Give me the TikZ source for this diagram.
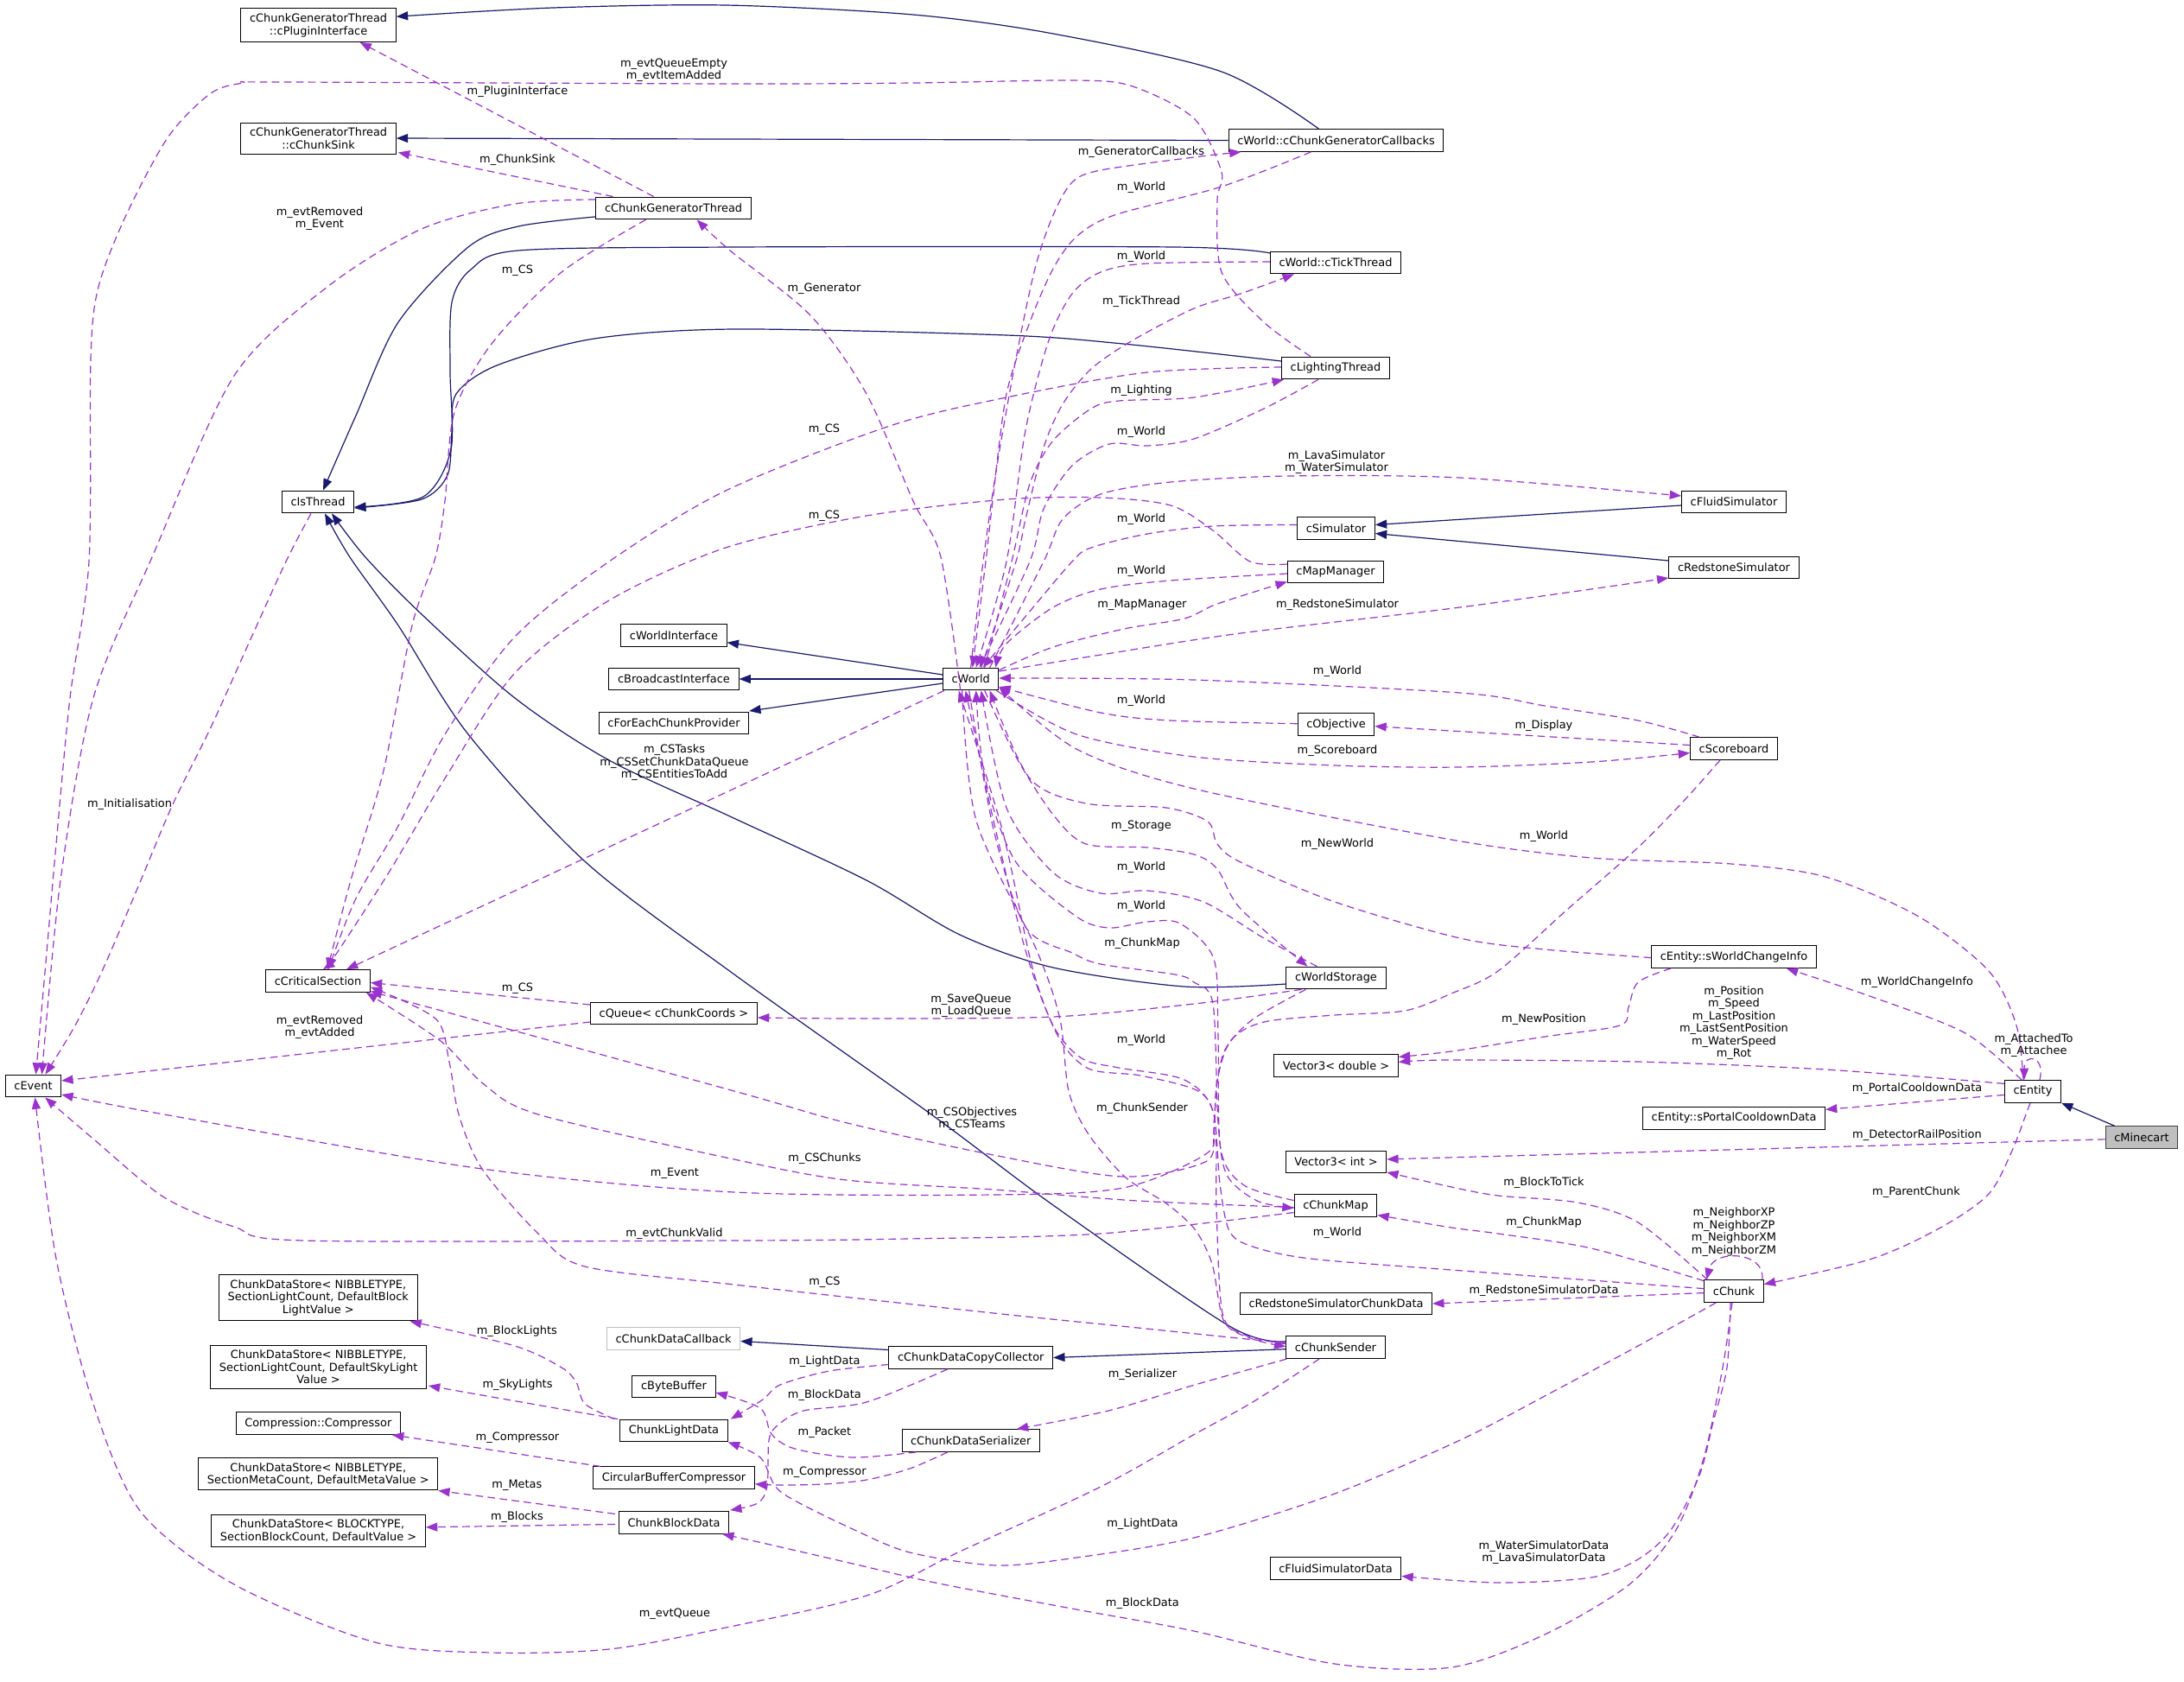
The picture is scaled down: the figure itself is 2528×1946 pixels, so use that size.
\documentclass[tikz,border=0pt]{standalone}
\usepackage{fontspec}
\setmainfont{DejaVu Sans}
\usetikzlibrary{arrows.meta,calc}
\definecolor{navyc}{HTML}{191970}
\definecolor{purp}{HTML}{9A32CD}
\definecolor{lgray}{HTML}{BFBFBF}
\newcommand\dgfont{\fontsize{9.7pt}{10.9pt}\selectfont}
\tikzset{
  cls/.style={draw=black, line width=0.75pt, fill=white, inner xsep=7.6pt, inner ysep=4.3pt, minimum height=19.3pt, align=center, font=\dgfont},
  inh/.style={draw=navyc, line width=0.9pt, -{Triangle[length=10pt,width=7.5pt]}},
  use/.style={draw=purp, line width=0.9pt, dash pattern=on 6.5pt off 4pt, -{Triangle[length=10pt,width=7.5pt]}},
  lbl/.style={inner sep=0pt, align=center, font=\dgfont},
}
\begin{document}
\begin{tikzpicture}[x=0.75pt,y=-0.75pt]
\fill[white] (0,0) rectangle (2528,1946);
\useasboundingbox (0,0) rectangle (2528,1946);
% ---------------- nodes
\node[cls] (pi) at (368.6,29.2) {cChunkGeneratorThread\\::cPluginInterface};
\node[cls] (cs) at (368.6,160) {cChunkGeneratorThread\\::cChunkSink};
\node[cls] (cgt) at (779.6,240.9) {cChunkGeneratorThread};
\node[cls] (cb) at (1546.5,162.5) {cWorld::cChunkGeneratorCallbacks};
\node[cls] (tt) at (1546,304) {cWorld::cTickThread};
\node[cls] (lt) at (1546,426) {cLightingThread};
\node[cls] (sim) at (1546.5,611.5) {cSimulator};
\node[cls] (fs) at (2007,581) {cFluidSimulator};
\node[cls] (rs) at (2007,657) {cRedstoneSimulator};
\node[cls] (mm) at (1546,662) {cMapManager};
\node[cls] (w) at (1123.7,786) {cWorld};
\node[cls] (wi) at (780,735.7) {cWorldInterface};
\node[cls] (bi) at (780,786) {cBroadcastInterface};
\node[cls] (fe) at (780,837) {cForEachChunkProvider};
\node[cls] (obj) at (1546.5,838.7) {cObjective};
\node[cls] (sb) at (2007,866.5) {cScoreboard};
\node[cls] (it) at (368,581) {cIsThread};
\node[cls] (crs) at (368,1135.5) {cCriticalSection};
\node[cls] (ev) at (38.5,1257) {cEvent};
\node[cls] (q) at (780,1173) {cQueue< cChunkCoords >};
\node[cls] (ws) at (1546.5,1132) {cWorldStorage};
\node[cls] (wci) at (2007,1107.6) {cEntity::sWorldChangeInfo};
\node[cls] (v3d) at (1546.5,1233.4) {Vector3< double >};
\node[cls] (ent) at (2353,1263.4) {cEntity};
\node[cls] (pcd) at (2007,1294.3) {cEntity::sPortalCooldownData};
\node[cls, fill=lgray, draw=black!75] (mc) at (2479,1316.8) {cMinecart};
\node[cls] (v3i) at (1546.5,1344.9) {Vector3< int >};
\node[cls] (cm) at (1546,1395.5) {cChunkMap};
\node[cls] (rscd) at (1546.5,1509) {cRedstoneSimulatorChunkData};
\node[cls] (ch) at (2007,1494.6) {cChunk};
\node[cls] (snd) at (1546,1559.7) {cChunkSender};
\node[cls] (dcc) at (1123.8,1571.5) {cChunkDataCopyCollector};
\node[cls] (dser) at (1123.8,1667.5) {cChunkDataSerializer};
\node[cls] (fsd) at (1546,1815.5) {cFluidSimulatorData};
\node[cls, draw=lgray] (dcb) at (779.6,1549.5) {cChunkDataCallback};
\node[cls] (bb) at (780,1605) {cByteBuffer};
\node[cls] (cld) at (780,1656) {ChunkLightData};
\node[cls] (cbc) at (780,1710.8) {CircularBufferCompressor};
\node[cls] (cbd) at (780,1762.4) {ChunkBlockData};
\node[cls] (ds1) at (368.3,1502.4) {ChunkDataStore< NIBBLETYPE,\\ SectionLightCount, DefaultBlock\\LightValue >};
\node[cls] (ds2) at (368.6,1582.3) {ChunkDataStore< NIBBLETYPE,\\ SectionLightCount, DefaultSkyLight\\Value >};
\node[cls] (cc) at (368.3,1647.6) {Compression::Compressor};
\node[cls] (ds3) at (368.3,1706.3) {ChunkDataStore< NIBBLETYPE,\\ SectionMetaCount, DefaultMetaValue >};
\node[cls] (ds4) at (368.6,1771.8) {ChunkDataStore< BLOCKTYPE,\\ SectionBlockCount, DefaultValue >};
% ---------------- inheritance
\draw[inh] plot[smooth] coordinates {($(cb.north)+(-20,0)$) (1414,83) (1219,39) (1057,17) (840,6) (640,9) ($(pi.east)+(0,-10)$)};
\draw[inh] (cb.west) -- (cs.east);
\draw[inh] plot[smooth] coordinates {($(cgt.west)+(0,10)$) (600,262) (542,286) (461,373) (412,481) ($(it.north)+(6,0)$)};
\draw[inh] plot[smooth] coordinates {($(tt.west)+(0,-11)$) (1360,286) (850,286) (600,290) (545,312) (523,350) (521,430) (522,520) (490,575) ($(it.east)+(0,6)$)};
\draw[inh] plot[smooth] coordinates {($(lt.west)+(0,-8)$) (1300,398) (1165,388) (850,381) (688,392) (575,423) (528,456) (523,500) (518,550) (488,578) ($(it.east)+(0,7)$)};
\draw[inh] plot[smooth] coordinates {($(ws.west)+(0,7)$) (1371,1142) (1219,1120) (1111,1082) (1003,1019) (845,945) (705,880) (596,808) (488,711) (423,645) ($(it.south)+(16,0)$)};
\draw[inh] plot[smooth] coordinates {($(snd.west)+(0,-7)$) (1423,1535) (1219,1395) (1078,1290) (850,1128) (678,998) (542,850) (461,724) (405,645) ($(it.south)+(8,0)$)};
\draw[inh] ($(w.west)+(0,-5)$) -- ($(wi.east)+(0,8)$);
\draw[inh] (w.west) -- (bi.east);
\draw[inh] ($(w.west)+(0,5)$) -- ($(fe.east)+(0,-14)$);
\draw[inh] ($(fs.west)+(0,4)$) -- ($(sim.east)+(0,-4)$);
\draw[inh] ($(rs.west)+(0,-8)$) -- ($(sim.east)+(0,6)$);
\draw[inh] ($(mc.north)+(-31,0)$) -- (ent.south east);
\draw[inh] ($(snd.west)+(0,2)$) -- (dcc.east);
\draw[inh] ($(dcc.west)+(0,-9)$) -- ($(dcb.east)+(0,3)$);
% ---------------- usage edges
\draw[use] ($(cgt.north)+(-23,0)$) -- ($(pi.south)+(48,0)$);
\draw[use] ($(cgt.north)+(-70,0)$) -- ($(cs.south east)+(2,-2)$);
\draw[use] plot[smooth] coordinates {($(cgt.west)+(0,-10)$) (596,236) (488,265) (379,332) (271,435) (176,645) (108,808) (70,1019) ($(ev.north)+(10,0)$)};
\draw[use] plot[smooth] coordinates {($(lt.north)+(-29,0)$) (1463,373) (1414,315) (1409,232) (1414,199) (1382,137) (1311,100) (1246,93) (1057,96) (850,97) (325,95) (282,96) (244,108) (195,158) (146,249) (114,332) (105,415) (103,650) (81,808) (65,977) (54,1103) ($(ev.north)+(3,0)$)};
\draw[use] plot[smooth] coordinates {($(it.south)+(-8,0)$) (331,650) (290,740) (244,842) (200,931) (163,1019) (120,1120) (87,1187) ($(ev.north)+(14,0)$)};
\draw[use] plot[smooth] coordinates {($(cgt.south)+(-32,0)$) (650,315) (569,398) (526,477) (515,580) (504,645) (477,724) (444,892) (406,1019) ($(crs.north)+(11,0)$)};
\draw[use] plot[smooth] coordinates {($(lt.west)+(0,-1)$) (1328,431) (1165,460) (1030,493) (840,568) (705,650) (596,737) (515,850) (461,956) (412,1040) ($(crs.north)+(12,0)$)};
\draw[use] plot[smooth] coordinates {($(mm.west)+(0,-9)$) (1447,650) (1404,614) (1355,585) (1274,576) (1165,578) (1003,597) (840,634) (705,695) (596,779) (515,901) (450,1010) (390,1103) ($(crs.north)+(6,0)$)};
\draw[use] plot[smooth] coordinates {(w.north) (1138,650) (1154,539) (1176,415) (1198,311) (1219,249) (1241,211) (1274,197) (1382,182) ($(cb.south)+(-110,0)$)};
\draw[use] plot[smooth] coordinates {($(cb.south)+(-29,0)$) (1414,216) (1290,249) (1246,274) (1219,311) (1192,373) (1165,456) (1149,580) (1141,650) ($(w.north)+(2,0)$)};
\draw[use] plot[smooth] coordinates {($(tt.west)+(0,-1)$) (1328,305) (1274,315) (1241,340) (1214,394) (1187,498) (1165,650) ($(w.north)+(6,0)$)};
\draw[use] plot[smooth] coordinates {($(w.north)+(12,0)$) (1176,650) (1187,601) (1208,518) (1230,468) (1263,427) (1311,394) (1382,357) (1436,340) ($(tt.south)+(-48,0)$)};
\draw[use] plot[smooth] coordinates {($(w.north)+(16,0)$) (1171,650) (1192,560) (1219,510) (1263,473) (1295,464) (1382,460) ($(lt.south west)+(3,0)$)};
\draw[use] plot[smooth] coordinates {($(lt.south)+(-20,0)$) (1463,473) (1382,508) (1328,516) (1284,514) (1241,539) (1208,589) (1192,650) ($(w.north)+(10,0)$)};
\draw[use] plot[smooth] coordinates {($(w.north)+(22,0)$) (1208,650) (1230,601) (1274,572) (1355,558) (1490,551) (1690,553) ($(fs.west)+(0,-7)$)};
\draw[use] plot[smooth] coordinates {($(sim.west)+(0,-4)$) (1404,609) (1328,618) (1263,634) (1241,650) (1190,710) ($(w.north)+(14,0)$)};
\draw[use] plot[smooth] coordinates {($(mm.west)+(0,2)$) (1355,672) (1274,682) (1219,703) (1165,745) ($(w.north east)+(-4,0)$)};
\draw[use] plot[smooth] coordinates {($(w.north east)+(0,3)$) (1219,749) (1301,728) (1371,716) (1409,699) ($(mm.south west)+(0,-2)$)};
\draw[use] plot[smooth] coordinates {($(w.east)+(0,-9)$) (1274,758) (1436,733) (1690,703) ($(rs.west)+(0,12)$)};
\draw[use] plot[smooth] coordinates {($(sb.north)+(-40,0)$) (1896,834) (1788,817) (1690,802) (1382,787) ($(w.east)+(0,-1)$)};
\draw[use] plot[smooth] coordinates {($(obj.west)+(0,-1)$) (1355,834) (1274,825) ($(w.east)+(0,9)$)};
\draw[use] ($(sb.west)+(0,-4)$) -- ($(obj.east)+(0,2)$);
\draw[use] plot[smooth] coordinates {($(w.south east)+(-3,0)$) (1246,850) (1382,876) (1545,886) (1690,888) (1842,882) ($(sb.west)+(0,5)$)};
\draw[use] ($(w.south west)+(2,0)$) -- ($(crs.north)+(33,0)$);
\draw[use] plot[smooth] coordinates {($(w.south)+(-12,0)$) (1089,645) (1057,580) (1003,456) (938,365) (845,290) ($(cgt.south)+(27,0)$)};
\draw[use] plot[smooth] coordinates {($(ent.north)+(-11,0)$) (2334,1187) (2302,1124) (2221,1061) (2113,1015) (2004,1000) (1842,993) (1680,972) (1382,913) (1246,867) ($(w.south east)+(0,-4)$)};
\draw[use] plot[smooth] coordinates {($(wci.west)+(0,1)$) (1788,1099) (1690,1086) (1545,1044) (1436,998) (1409,977) (1398,951) (1350,935) (1257,930) (1192,901) ($(w.south)+(22,0)$)};
\draw[use] plot[smooth] coordinates {($(w.south)+(16,0)$) (1176,876) (1219,943) (1257,977) (1328,981) (1382,989) (1409,1006) (1436,1052) ($(ws.north)+(-33,0)$)};
\draw[use] plot[smooth] coordinates {($(ws.north)+(-22,0)$) (1463,1086) (1393,1044) (1328,1031) (1274,1034) (1219,1010) (1165,935) ($(w.south)+(12,0)$)};
\draw[use] plot[smooth] coordinates {($(cm.west)+(0,-6)$) (1440,1372) (1413,1330) (1410,1200) (1405,1110) (1366,1069) (1328,1067) (1284,1074) (1246,1061) (1176,998) (1140,900) ($(w.south)+(6,0)$)};
\draw[use] plot[smooth] coordinates {($(w.south)+(-2,0)$) (1150,960) (1187,1073) (1241,1103) (1274,1116) (1360,1128) (1382,1137) (1404,1162) (1410,1300) (1420,1360) (1455,1390) ($(cm.west)+(0,3)$)};
\draw[use] plot[smooth] coordinates {($(snd.west)+(0,-4)$) (1440,1545) (1415,1520) (1408,1400) (1405,1290) (1371,1250) (1295,1236) (1252,1225) (1219,1187) (1187,1100) (1150,950) ($(w.south)+(-6,0)$)};
\draw[use] plot[smooth] coordinates {($(w.south)+(-10,0)$) (1130,950) (1200,1100) (1227,1180) (1237,1263) (1260,1313) (1303,1363) (1350,1393) (1383,1423) (1403,1463) (1417,1530) (1450,1550) ($(snd.west)+(0,-1)$)};
\draw[use] plot[smooth] coordinates {($(ch.west)+(0,-3)$) (1680,1470) (1517,1457) (1450,1443) (1423,1425) (1412,1370) (1405,1290) (1385,1262) (1320,1245) (1260,1237) (1225,1200) (1195,1120) (1160,960) ($(w.south)+(-14,0)$)};
\draw[use] plot[smooth] coordinates {($(ws.south)+(-40,0)$) (1382,1162) (1219,1177) (1003,1179) ($(q.east)+(0,5)$)};
\draw[use] ($(q.west)+(0,-10)$) -- ($(crs.east)+(0,2)$);
\draw[use] ($(q.west)+(0,10)$) -- ($(ev.east)+(0,-6)$);
\draw[use] plot[smooth] coordinates {($(ws.south)+(-35,0)$) (1450,1180) (1418,1215) (1408,1260) (1405,1300) (1397,1335) (1300,1375) (1150,1383) (850,1380) (558,1353) (190,1290) ($(ev.east)+(0,10)$)};
\draw[use] plot[smooth] coordinates {($(cm.west)+(0,2)$) (1317,1390) (1150,1377) (980,1366) (850,1342) (623,1290) (560,1255) (510,1205) ($(crs.south east)+(-5,0)$)};
\draw[use] plot[smooth] coordinates {($(cm.west)+(0,8)$) (1274,1428) (1050,1434) (850,1436) (352,1436) (271,1420) (190,1386) (110,1320) ($(ev.south east)+(-19,0)$)};
\draw[use] plot[smooth] coordinates {($(sb.south)+(-16,0)$) (1950,926) (1896,981) (1815,1052) (1734,1124) (1680,1150) (1626,1170) (1545,1175) (1463,1183) (1425,1204) (1409,1250) (1405,1310) (1395,1345) (1300,1362) (1150,1337) (981,1300) (850,1263) ($(crs.east)+(0,12)$)};
\draw[use] plot[smooth] coordinates {($(wci.south)+(-73,0)$) (1896,1137) (1885,1166) (1875,1187) (1788,1200) (1680,1217) ($(v3d.east)+(0,-10)$)};
\draw[use] plot[smooth] coordinates {($(ent.west)+(0,-9)$) (2113,1238) (1896,1229) (1680,1227) ($(v3d.east)+(0,-4)$)};
\draw[use] plot[smooth] coordinates {($(ent.north)+(-13,0)$) (2275,1196) (2167,1154) ($(wci.south east)+(-35,0)$)};
\draw[use] ($(ent.north)+(8,0)$) .. controls (2368,1222) and (2343,1218) .. ($(ent.north)+(-10,0)$);
\draw[use] ($(ent.west)+(0,4)$) -- ($(pcd.east)+(0,-10)$);
\draw[use] ($(mc.west)+(0,2)$) -- ($(v3i.east)+(0,-3)$);
\draw[use] plot[smooth] coordinates {($(ent.south)+(-3,0)$) (2345,1290) (2329,1332) (2302,1382) (2248,1420) (2167,1457) ($(ch.east)+(0,-8)$)};
\draw[use] plot[smooth] coordinates {($(ch.north west)+(4,0)$) (1896,1415) (1826,1392) (1734,1384) (1680,1374) ($(v3i.east)+(0,12)$)};
\draw[use] plot[smooth] coordinates {($(ch.west)+(0,-12)$) (1842,1445) (1734,1428) (1680,1421) ($(cm.east)+(0,11)$)};
\draw[use] ($(ch.west)+(0,2)$) -- (rscd.east);
\draw[use] ($(ch.north east)+(-2,0)$) .. controls (2044,1448) and (1984,1446) .. ($(ch.north west)+(3,0)$);
\draw[use] plot[smooth] coordinates {($(ch.south west)+(14,0)$) (1896,1558) (1788,1616) (1690,1667) (1545,1729) (1382,1780) (1246,1803) (1153,1812) (1053,1797) (987,1770) (920,1737) (897,1720) (880,1687) (cld.south east)};
\draw[use] plot[smooth] coordinates {($(ch.south)+(-2,0)$) (1994,1583) (1972,1688) (1940,1771) (1886,1834) (1788,1892) (1680,1930) (1545,1926) (1382,1888) (1246,1863) (1087,1833) (987,1810) (887,1787) ($(cbd.south east)+(-8,0)$)};
\draw[use] plot[smooth] coordinates {($(ch.south)+(-4,0)$) (1999,1583) (1983,1646) (1967,1708) (1934,1771) (1896,1805) (1842,1826) (1734,1832) ($(fsd.east)+(0,9)$)};
\draw[use] plot[smooth] coordinates {($(snd.west)+(0,-5)$) (1317,1537) (1150,1520) (850,1487) (677,1466) (623,1428) (558,1353) (531,1290) (520,1229) (504,1179) ($(crs.east)+(0,7)$)};
\draw[use] plot[smooth] coordinates {($(snd.south west)+(1,0)$) (1383,1603) (1283,1633) ($(dser.north)+(53,0)$)};
\draw[use] plot[smooth] coordinates {($(snd.south)+(-19,0)$) (1450,1623) (1383,1660) (1274,1721) (1111,1796) (1003,1847) (840,1884) (705,1909) (569,1913) (434,1901) (271,1834) (163,1750) (108,1625) (65,1457) ($(ev.south)+(2,0)$)};
\draw[use] plot[smooth] coordinates {($(dcc.west)+(0,8)$) (960,1587) (903,1603) (883,1620) ($(cld.north east)+(3,0)$)};
\draw[use] plot[smooth] coordinates {($(dcc.south)+(-27,0)$) (1003,1623) (930,1633) (900,1650) (890,1667) (888,1720) (877,1740) ($(cbd.north east)+(1,-1)$)};
\draw[use] plot[smooth] coordinates {($(dser.south west)+(17,0)$) (987,1687) (920,1677) (893,1660) (880,1630) ($(bb.east)+(0,7)$)};
\draw[use] plot[smooth] coordinates {($(dser.south)+(-27,0)$) (1053,1700) (1003,1713) (953,1718) (900,1719) ($(cbc.east)+(0,7)$)};
\draw[use] plot[smooth] coordinates {($(cld.north west)+(-6,0)$) (677,1625) (667,1600) (650,1583) (596,1558) ($(ds1.south east)+(-9,0)$)};
\draw[use] ($(cld.north west)+(-2,0)$) -- ($(ds2.south east)+(2,-4)$);
\draw[use] ($(cbc.north west)+(9,0)$) -- ($(cc.south east)+(-10,0)$);
\draw[use] ($(cbd.west)+(-4,-10)$) -- (ds3.south east);
\draw[use] ($(cbd.west)+(-4,2)$) -- ($(ds4.east)+(0,-4)$);
% ---------------- labels
\node[lbl] (l1) at (599,106) {m\_PluginInterface};
\node[lbl] (l2) at (599,185) {m\_ChunkSink};
\node[lbl] (l3) at (370,253) {m\_evtRemoved\\m\_Event};
\node[lbl] (l4) at (780,81) {m\_evtQueueEmpty\\m\_evtItemAdded};
\node[lbl] (l5) at (150,931) {m\_Initialisation};
\node[lbl] (l6) at (599,313) {m\_CS};
\node[lbl] (l7) at (954,497.5) {m\_CS};
\node[lbl] (l8) at (954,597) {m\_CS};
\node[lbl] (l9) at (1321,176) {m\_GeneratorCallbacks};
\node[lbl] (l10) at (1321,217) {m\_World};
\node[lbl] (l11) at (1321,297) {m\_World};
\node[lbl] (l12) at (1321,349.5) {m\_TickThread};
\node[lbl] (l13) at (1321,452) {m\_Lighting};
\node[lbl] (l14) at (1321,500) {m\_World};
\node[lbl] (l15) at (1547,535) {m\_LavaSimulator\\m\_WaterSimulator};
\node[lbl] (l16) at (1321,601) {m\_World};
\node[lbl] (l17) at (1321,661) {m\_World};
\node[lbl] (l18) at (1322,700) {m\_MapManager};
\node[lbl] (l19) at (1548,700) {m\_RedstoneSimulator};
\node[lbl] (l20) at (1548,777) {m\_World};
\node[lbl] (l21) at (1321,811) {m\_World};
\node[lbl] (l22) at (1787,840) {m\_Display};
\node[lbl] (l23) at (1548,869) {m\_Scoreboard};
\node[lbl] (l24) at (780.5,883) {m\_CSTasks\\m\_CSSetChunkDataQueue\\m\_CSEntitiesToAdd};
\node[lbl] (l25) at (954,334) {m\_Generator};
\node[lbl] (l26) at (1787,968) {m\_World};
\node[lbl] (l27) at (1548,977) {m\_NewWorld};
\node[lbl] (l28) at (1321,956.5) {m\_Storage};
\node[lbl] (l29) at (1321,1004.5) {m\_World};
\node[lbl] (l30) at (1321,1049) {m\_World};
\node[lbl] (l31) at (1322,1092.4) {m\_ChunkMap};
\node[lbl] (l32) at (1124,1164) {m\_SaveQueue\\m\_LoadQueue};
\node[lbl] (l33) at (599,1144) {m\_CS};
\node[lbl] (l34) at (370,1189) {m\_evtRemoved\\m\_evtAdded};
\node[lbl] (l35) at (1321,1204) {m\_World};
\node[lbl] (l36) at (1322,1283) {m\_ChunkSender};
\node[lbl] (l37) at (1125,1295) {m\_CSObjectives\\m\_CSTeams};
\node[lbl] (l38) at (1787,1179.6) {m\_NewPosition};
\node[lbl] (l39) at (2007,1184) {m\_Position\\m\_Speed\\m\_LastPosition\\m\_LastSentPosition\\m\_WaterSpeed\\m\_Rot};
\node[lbl] (l40) at (2219,1137.5) {m\_WorldChangeInfo};
\node[lbl] (l41) at (2354,1210) {m\_AttachedTo\\m\_Attachee};
\node[lbl] (l42) at (2219,1260.4) {m\_PortalCooldownData};
\node[lbl] (l43) at (2219,1313.8) {m\_DetectorRailPosition};
\node[lbl] (l44) at (2218,1380.4) {m\_ParentChunk};
\node[lbl] (l45) at (954.4,1340.6) {m\_CSChunks};
\node[lbl] (l46) at (780.5,1428) {m\_evtChunkValid};
\node[lbl] (l47) at (781,1358) {m\_Event};
\node[lbl] (l48) at (1787,1369.5) {m\_BlockToTick};
\node[lbl] (l49) at (1787,1415.5) {m\_ChunkMap};
\node[lbl] (l50) at (1548,1427) {m\_World};
\node[lbl] (l51) at (1787,1493.8) {m\_RedstoneSimulatorData};
\node[lbl] (l52) at (2007,1426) {m\_NeighborXP\\m\_NeighborZP\\m\_NeighborXM\\m\_NeighborZM};
\node[lbl] (l53) at (954.4,1484.6) {m\_CS};
\node[lbl] (l54) at (1322.4,1591) {m\_Serializer};
\node[lbl] (l55) at (781,1868.7) {m\_evtQueue};
\node[lbl] (l56) at (954.4,1575.8) {m\_LightData};
\node[lbl] (l57) at (954.4,1615.5) {m\_BlockData};
\node[lbl] (l58) at (954.4,1657.8) {m\_Packet};
\node[lbl] (l59) at (954.4,1703.8) {m\_Compressor};
\node[lbl] (l60) at (1322.4,1764.5) {m\_LightData};
\node[lbl] (l61) at (1322.4,1856.5) {m\_BlockData};
\node[lbl] (l62) at (1787,1797) {m\_WaterSimulatorData\\m\_LavaSimulatorData};
\node[lbl] (l63) at (598.4,1540.6) {m\_BlockLights};
\node[lbl] (l64) at (599,1603.4) {m\_SkyLights};
\node[lbl] (l65) at (599,1664.5) {m\_Compressor};
\node[lbl] (l66) at (598.4,1719.7) {m\_Metas};
\node[lbl] (l67) at (598.4,1756.5) {m\_Blocks};
\end{tikzpicture}
\end{document}
